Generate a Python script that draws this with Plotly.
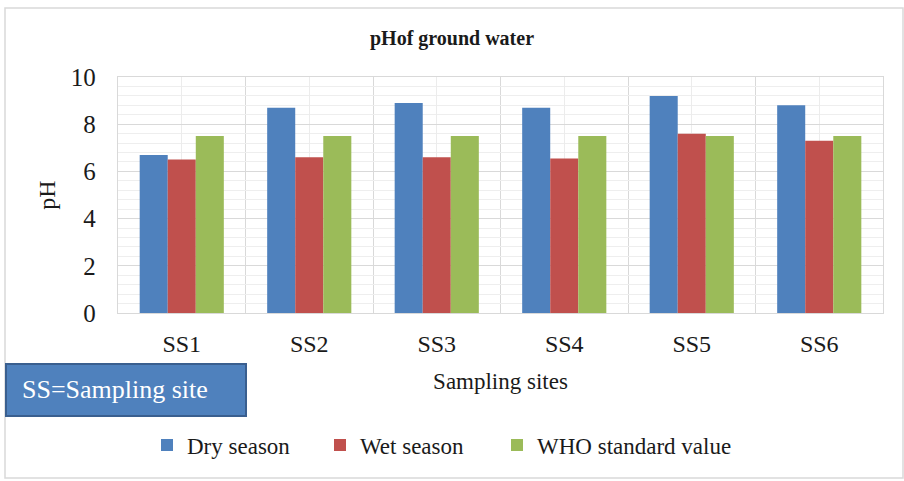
import plotly.graph_objects as go

sites = ["SS1", "SS2", "SS3", "SS4", "SS5", "SS6"]
dry_season = [6.7, 8.7, 8.9, 8.7, 9.2, 8.8]
wet_season = [6.5, 6.6, 6.6, 6.55, 7.6, 7.3]
who_standard = [7.5, 7.5, 7.5, 7.5, 7.5, 7.5]

idx = list(range(len(sites)))
serif = "Liberation Serif, Times New Roman, serif"
txt = "#1a1a1a"

fig = go.Figure()
fig.add_bar(x=idx, y=dry_season, name="Dry season", marker_color="#4F81BD", marker_line_width=0,
            legend="legend")
fig.add_bar(x=idx, y=wet_season, name="Wet season", marker_color="#C0504D", marker_line_width=0,
            legend="legend2")
fig.add_bar(x=idx, y=who_standard, name="WHO standard value", marker_color="#9BBB59", marker_line_width=0,
            legend="legend3")

leg_common = dict(orientation="h", y=(313 - 445) / 236, yanchor="middle", xanchor="left",
                  font=dict(size=23, family=serif, color=txt), itemwidth=30,
                  bgcolor="rgba(0,0,0,0)", borderwidth=0)

fig.update_layout(
    width=904, height=481,
    margin=dict(l=118, r=21, t=77, b=168),
    paper_bgcolor="white", plot_bgcolor="white",
    barmode="group", bargap=0.34, bargroupgap=0,
    font=dict(family=serif, color=txt),
    title=dict(text="<b>pHof ground water</b>", x=0.5, xanchor="center", y=1 - 38 / 481, yanchor="middle",
               font=dict(size=20, family=serif, color=txt)),
    showlegend=True,
    legend=dict(x=(147 - 118) / 765, **leg_common),
    legend2=dict(x=(320 - 118) / 765, **leg_common),
    legend3=dict(x=(497 - 118) / 765, **leg_common),
)
fig.update_xaxes(
    range=[-0.5, 5.5], tickvals=idx, ticktext=sites, zeroline=False,
    showgrid=True, gridcolor="#ececec", gridwidth=1,
    tickfont=dict(size=24, family=serif, color=txt), ticks="outside", ticklen=9,
    tickcolor="rgba(0,0,0,0)",
    showline=True, linecolor="#d9d9d9", linewidth=1.3, mirror=True,
    minor=dict(tick0=-0.5, dtick=1, showgrid=True, gridcolor="#d9d9d9", gridwidth=1.3, ticks=""),
    title=dict(text="Sampling sites", font=dict(size=23, family=serif, color=txt), standoff=16),
)
fig.update_yaxes(
    range=[0, 10], dtick=2, showgrid=True, gridcolor="#d9d9d9", gridwidth=1.3, zeroline=False,
    tickfont=dict(size=25, family=serif, color=txt), ticks="outside", ticklen=16,
    tickcolor="rgba(0,0,0,0)",
    showline=True, linecolor="#d9d9d9", linewidth=1.3, mirror=True,
    minor=dict(dtick=0.4, showgrid=True, gridcolor="#eeeeee", gridwidth=1, ticks=""),
    title=dict(text="pH", font=dict(size=24, family=serif, color=txt), standoff=8),
)

# outer chart border
fig.add_shape(type="rect", xref="paper", yref="paper",
              x0=(5 - 118) / 765, x1=(903 - 118) / 765,
              y0=(313 - 478) / 236, y1=(313 - 8) / 236,
              line=dict(color="#d9d9d9", width=1.5), fillcolor="rgba(0,0,0,0)", layer="below")
# "SS=Sampling site" box
fig.add_shape(type="rect", xref="paper", yref="paper",
              x0=(6 - 118) / 765, x1=(246 - 118) / 765,
              y0=(313 - 416) / 236, y1=(313 - 364) / 236,
              line=dict(color="#3A5F8F", width=2), fillcolor="#4F81BD")
fig.add_annotation(text="SS=Sampling site", xref="paper", yref="paper",
                   x=(20 - 118) / 765, y=(313 - 389) / 236,
                   xanchor="left", yanchor="middle", showarrow=False,
                   font=dict(size=26, family=serif, color="white"))

fig.write_html("out.html", config={"displayModeBar": False},
               post_script="document.body.style.margin='0';")
